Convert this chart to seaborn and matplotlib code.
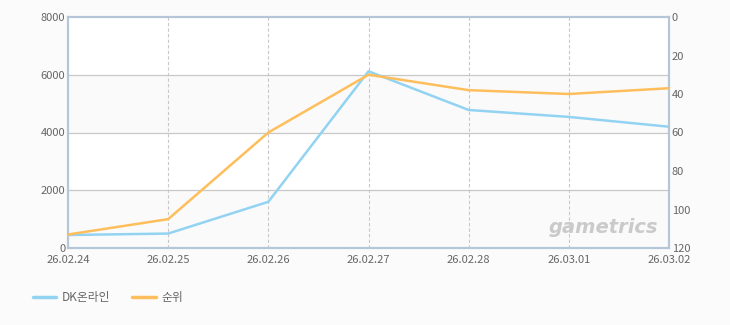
import matplotlib
matplotlib.use("Agg")
import matplotlib.pyplot as plt
import seaborn as sns
import pandas as pd
from matplotlib.lines import Line2D

dates = ["26.02.24", "26.02.25", "26.02.26", "26.02.27", "26.02.28", "26.03.01", "26.03.02"]
users = [450, 500, 1600, 6120, 4780, 4540, 4200]
rank = [113, 105, 60, 30, 38, 40, 37]
left_ticks = [0, 2000, 4000, 6000, 8000]
right_ticks = [0, 20, 40, 60, 80, 100, 120]
series_names = ["DK온라인", "순위"]

sns.set_style("white")
plt.rcParams['font.family'] = ['Noto Sans CJK KR', 'DejaVu Sans']

BLUE = "#93d3f2"
ORANGE = "#ffbe5c"
SPINE = "#b4c6d8"
TXT = "#666666"

df = pd.DataFrame({"date": dates, "users": users, "rank": rank})
df["pos"] = range(len(dates))

fig = plt.figure(figsize=(7.3, 3.25), dpi=100)
fig.patch.set_facecolor("#fbfbfb")
ax = fig.add_axes([68/730, 1-248/325, (669-68)/730, (248-17)/325])
ax.set_facecolor("white")

# alternating bands
for lo, hi in [(0, 2000), (4000, 6000)]:
    ax.axhspan(lo, hi, color="#fafafa", zorder=0, lw=0)
for y in [2000, 4000, 6000]:
    ax.axhline(y, color="#c8c8c8", lw=0.9, zorder=1)
for x in range(1, len(dates) - 1):
    ax.axvline(x, color="#c8c8c8", lw=0.8, ls=(0, (3, 2)), zorder=1)

sns.lineplot(data=df, x="pos", y="users", ax=ax, color=BLUE, lw=1.8, zorder=3, legend=False)
ax.set_xlim(0, len(dates) - 1)
ax.set_ylim(0, 8000)
ax.set_yticks(left_ticks)
ax.set_yticklabels([str(v) for v in left_ticks])
ax.set_xticks(range(len(dates)))
ax.set_xticklabels(dates)
ax.set_xlabel("")
ax.set_ylabel("")

ax2 = ax.twinx()
sns.lineplot(data=df, x="pos", y="rank", ax=ax2, color=ORANGE, lw=1.8, zorder=3, legend=False)
ax2.set_ylim(120, 0)
ax2.set_yticks(right_ticks)
ax2.set_yticklabels([str(v) for v in right_ticks])
ax2.set_ylabel("")
ax2.set_xlim(0, len(dates) - 1)

for a in (ax, ax2):
    for s in a.spines.values():
        s.set_color(SPINE)
        s.set_linewidth(1.5)
    a.tick_params(axis="both", labelsize=8, colors=TXT, length=0, pad=2)

ax.tick_params(axis="x", pad=5)
ax.tick_params(axis="y", pad=2)
ax2.tick_params(axis="y", pad=2)

ax.text(0.982, 0.09, "gametrics", transform=ax.transAxes, ha="right", va="center",
        fontsize=14, fontstyle="italic", fontweight="bold", color="#cacaca",
        family="DejaVu Sans", zorder=2)

handles = [Line2D([0], [0], color=BLUE, lw=2.5), Line2D([0], [0], color=ORANGE, lw=2.5)]
leg = fig.legend(handles, series_names, loc="center left", bbox_to_anchor=(22/730, 1-298/325),
                 frameon=False, ncol=2, fontsize=8.5, handlelength=2.0, handletextpad=0.5,
                 columnspacing=1.8)
for t in leg.get_texts():
    t.set_color(TXT)

fig.savefig("out.png", dpi=100, facecolor=fig.get_facecolor())
